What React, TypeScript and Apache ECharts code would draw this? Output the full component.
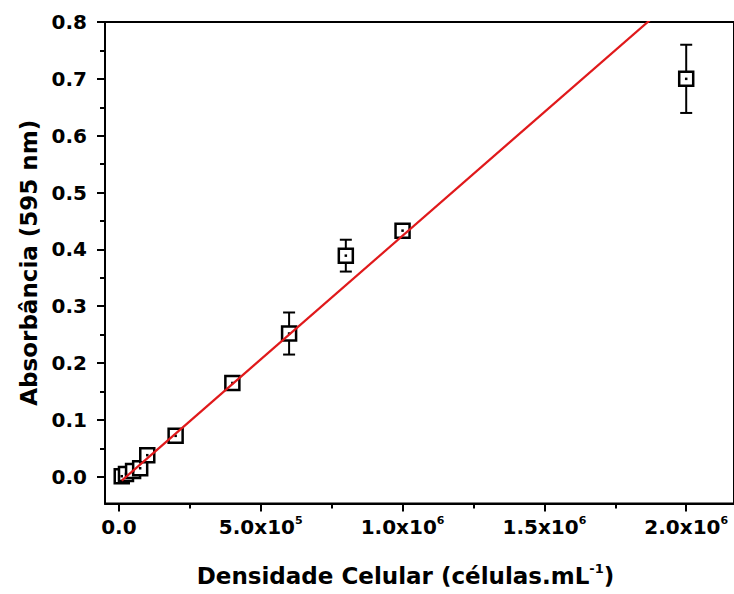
import React, { useEffect, useRef } from "react";
import * as echarts from "echarts";

// Cell density (células/mL)
const densidade = [1e4, 2.5e4, 5e4, 7.5e4, 1e5, 2e5, 4e5, 6e5, 8e5, 1e6, 2e6];
// Absorbance at 595 nm
const absorbancia = [0.001, 0.005, 0.01, 0.015, 0.038, 0.072, 0.165, 0.252, 0.389, 0.433, 0.7];
// Error (± std dev)
const erro = [0.004, 0.004, 0.004, 0.004, 0.006, 0.004, 0.008, 0.037, 0.028, 0.007, 0.06];
// Linear fit end points
const ajusteX = [1e4, 2e6];
const ajusteY = [-0.0067, 0.859];

const xMajorTicks = [0, 5e5, 1e6, 1.5e6, 2e6];
const xMinorTicks = [2.5e5, 7.5e5, 1.25e6, 1.75e6];
const yMajorTicks = [0, 0.1, 0.2, 0.3, 0.4, 0.5, 0.6, 0.7, 0.8];
const yMinorTicks = [0.05, 0.15, 0.25, 0.35, 0.45, 0.55, 0.65, 0.75];

const FONT = "DejaVu Sans";

function xLabel(v: number): string {
  if (v === 0) return "{a|0.0}";
  const exp = Math.floor(Math.log10(v) + 1e-9);
  const mant = v / Math.pow(10, exp);
  return `{a|${mant.toFixed(1)}x10}{s|${exp}}`;
}

export default function App() {
  const ref = useRef<HTMLDivElement>(null);
  useEffect(() => {
    if (!ref.current) return;
    const chart = echarts.init(ref.current, null, { renderer: "svg" });
    const xMin = -4.9e4;
    const xMax = 2.1685e6;
    const yMin = -0.047;
    const yMax = 0.8;
    const axisLineStyle = { color: "#000", width: 2 };
    chart.setOption({
      animation: false,
      backgroundColor: "#fff",
      grid: {
        left: 105,
        top: 22,
        right: -3,
        bottom: 90,
        show: true,
        borderColor: "#000",
        borderWidth: 2,
        backgroundColor: "transparent",
      },
      xAxis: [
        {
          type: "value",
          min: xMin,
          max: xMax,
          splitLine: { show: false },
          axisLine: { show: true, onZero: false, lineStyle: axisLineStyle },
          axisTick: {
            show: true,
            inside: false,
            length: 8,
            lineStyle: { color: "#000", width: 2 },
            customValues: xMajorTicks,
          },
          axisLabel: {
            customValues: xMajorTicks,
            margin: 11,
            formatter: (v: number) => xLabel(v),
            rich: {
              a: { fontFamily: FONT, fontWeight: "bold", fontSize: 20, color: "#000", lineHeight: 24 },
              s: { fontFamily: FONT, fontWeight: "bold", fontSize: 11, color: "#000", verticalAlign: "top", lineHeight: 24, padding: [0, 0, 14, 0] },
            },
          },
          name: "{t|Densidade Celular (células.mL}{s|-1}{t|)}",
          nameLocation: "middle",
          nameGap: 58,
          nameTextStyle: {
            padding: [0, 28, 0, 0],
            rich: {
              t: { fontFamily: FONT, fontWeight: "bold", fontSize: 23, color: "#000", lineHeight: 28 },
              s: { fontFamily: FONT, fontWeight: "bold", fontSize: 13, color: "#000", lineHeight: 28, padding: [0, 0, 14, 0] },
            },
          },
        },
        {
          type: "value",
          min: xMin,
          max: xMax,
          position: "bottom",
          splitLine: { show: false },
          axisLine: { show: false, onZero: false },
          axisTick: {
            show: true,
            inside: false,
            length: 5,
            lineStyle: { color: "#000", width: 2 },
            customValues: xMinorTicks,
          },
          axisLabel: { show: false },
        },
      ],
      yAxis: [
        {
          type: "value",
          min: yMin,
          max: yMax,
          splitLine: { show: false },
          axisLine: { show: true, onZero: false, lineStyle: axisLineStyle },
          axisTick: {
            show: true,
            inside: false,
            length: 8,
            lineStyle: { color: "#000", width: 2 },
            customValues: yMajorTicks,
          },
          axisLabel: {
            customValues: yMajorTicks,
            margin: 18,
            formatter: (v: number) => v.toFixed(1),
            fontFamily: FONT,
            fontWeight: "bold",
            fontSize: 20,
            color: "#000",
          },
          name: "Absorbância (595 nm)",
          nameLocation: "middle",
          nameGap: 61,
          nameTextStyle: { fontFamily: FONT, fontWeight: "bold", fontSize: 23, color: "#000" },
        },
        {
          type: "value",
          min: yMin,
          max: yMax,
          position: "left",
          splitLine: { show: false },
          axisLine: { show: false, onZero: false },
          axisTick: {
            show: true,
            inside: false,
            length: 5,
            lineStyle: { color: "#000", width: 2 },
            customValues: yMinorTicks,
          },
          axisLabel: { show: false },
        },
      ],
      series: [
        {
          type: "custom",
          xAxisIndex: 0,
          yAxisIndex: 0,
          data: densidade.map((x, i) => [x, absorbancia[i] - erro[i], absorbancia[i] + erro[i]]),
          renderItem: (params: any, api: any) => {
            const x = api.value(0);
            const lo = api.coord([x, api.value(1)]);
            const hi = api.coord([x, api.value(2)]);
            const half = 6;
            const style = { stroke: "#000", lineWidth: 2 };
            return {
              type: "group",
              children: [
                { type: "line", shape: { x1: lo[0], y1: lo[1], x2: hi[0], y2: hi[1] }, style },
                { type: "line", shape: { x1: hi[0] - half, y1: hi[1], x2: hi[0] + half, y2: hi[1] }, style },
                { type: "line", shape: { x1: lo[0] - half, y1: lo[1], x2: lo[0] + half, y2: lo[1] }, style },
              ],
            };
          },
        },
        {
          type: "scatter",
          xAxisIndex: 0,
          yAxisIndex: 0,
          symbol: "rect",
          symbolSize: 14,
          data: densidade.map((x, i) => [x, absorbancia[i]]),
          itemStyle: { color: "#fff", borderColor: "#000", borderWidth: 2.5, opacity: 1 },
          emphasis: { disabled: true },
        },
        {
          type: "scatter",
          xAxisIndex: 0,
          yAxisIndex: 0,
          symbol: "rect",
          symbolSize: 2.5,
          data: densidade.map((x, i) => [x, absorbancia[i]]),
          itemStyle: { color: "#000", opacity: 1 },
          emphasis: { disabled: true },
        },
        {
          type: "line",
          xAxisIndex: 0,
          yAxisIndex: 0,
          data: ajusteX.map((x, i) => [x, ajusteY[i]]),
          showSymbol: false,
          symbol: "none",
          clip: true,
          lineStyle: { color: "#e0191b", width: 2.2 },
          emphasis: { disabled: true },
        },
      ],
    });
    return () => chart.dispose();
  }, []);
  return (
    <div
      ref={ref}
      style={{ position: "fixed", left: 0, top: 0, width: 734, height: 594, background: "#fff" }}
    />
  );
}
